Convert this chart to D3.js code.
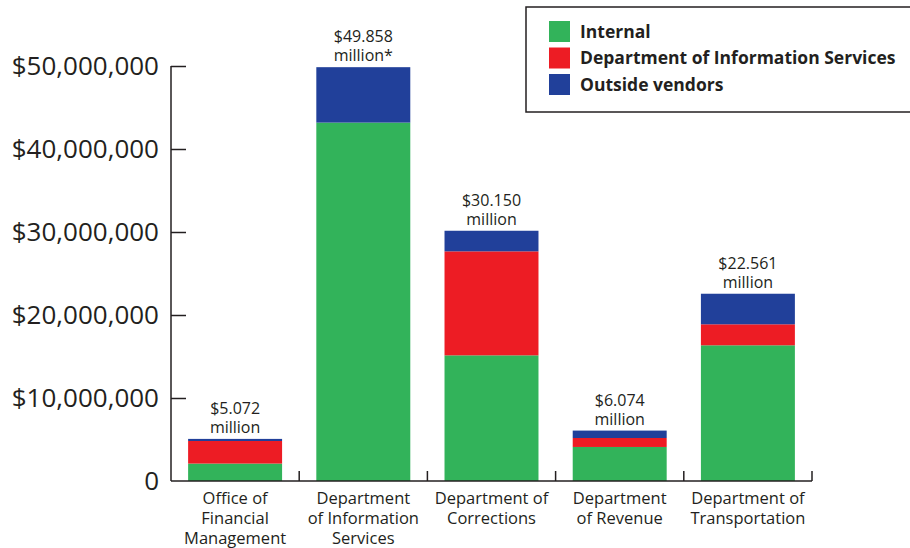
<!DOCTYPE html>
<html>
<head>
<meta charset="utf-8">
<script src="https://cdn.jsdelivr.net/npm/d3@7"></script>
<style>
  body { margin: 0; background: #fff; }
  svg text { font-family: "Open Sans", sans-serif; fill: #231f20; }
</style>
</head>
<body>
<div id="chart"></div>
<script>
// categories (multi-line labels)
var categories = [
  ["Office of", "Financial", "Management"],
  ["Department", "of Information", "Services"],
  ["Department of", "Corrections"],
  ["Department", "of Revenue"],
  ["Department of", "Transportation"]
];

// series values, millions of dollars
var internal = [2.10, 43.18, 15.14, 4.10, 16.35];
var infoServices = [2.72, 0, 12.53, 1.08, 2.53];
var outsideVendors = [0.252, 6.678, 2.48, 0.894, 3.681];

// total labels above each bar
var totalLabels = [
  ["$5.072", "million"],
  ["$49.858", "million*"],
  ["$30.150", "million"],
  ["$6.074", "million"],
  ["$22.561", "million"]
];

var seriesNames = ["Internal", "Department of Information Services", "Outside vendors"];
var seriesColors = ["#32b35a", "#ed1c24", "#21409a"];

var yTicks = [0, 10, 20, 30, 40, 50];
var yTickLabels = ["0", "$10,000,000", "$20,000,000", "$30,000,000", "$40,000,000", "$50,000,000"];

var svgWidth = 910, svgHeight = 548;

var svg = d3.select("#chart")
  .append("svg")
  .attr("width", svgWidth)
  .attr("height", svgHeight);

var margin = { top: 66, left: 171, right: 98, bottom: 67 };
var width = svgWidth - margin.left - margin.right;
var height = svgHeight - margin.top - margin.bottom;

var chartGroup = svg.append("g")
  .attr("transform", `translate(${margin.left}, ${margin.top})`);

// build table for the stack
var rows = categories.map(function(c, i) {
  return { idx: i, s0: internal[i], s1: infoServices[i], s2: outsideVendors[i] };
});
var stack = d3.stack().keys(["s0", "s1", "s2"]);
var stacked = stack(rows);

var xScale = d3.scaleBand()
  .domain(d3.range(categories.length))
  .range([0, width])
  .paddingInner(0.267)
  .paddingOuter(0.1335);

var yScale = d3.scaleLinear()
  .domain([0, 50])
  .range([height, 0]);

// bars
chartGroup.selectAll("g.series")
  .data(stacked)
  .enter()
  .append("g")
  .attr("class", "series")
  .attr("fill", (d, i) => seriesColors[i])
  .selectAll("rect")
  .data(d => d)
  .enter()
  .append("rect")
  .attr("x", d => xScale(d.data.idx))
  .attr("y", d => yScale(d[1]))
  .attr("width", xScale.bandwidth())
  .attr("height", d => yScale(d[0]) - yScale(d[1]));

// y axis
var leftAxis = d3.axisRight(yScale)
  .tickValues(yTicks.filter(d => d > 0))
  .tickSize(15)
  .tickFormat("");

var yAxisG = chartGroup.append("g").call(leftAxis);
yAxisG.select(".domain").remove();
yAxisG.selectAll(".tick line").attr("stroke", "#231f20").attr("stroke-width", 1.5);

chartGroup.append("line")
  .attr("x1", 0).attr("x2", 0)
  .attr("y1", yScale(50)).attr("y2", height)
  .attr("stroke", "#231f20")
  .attr("stroke-width", 1.5);

chartGroup.selectAll("text.ytick")
  .data(yTicks)
  .enter()
  .append("text")
  .attr("class", "ytick")
  .attr("x", -12)
  .attr("y", d => yScale(d) + 9)
  .attr("text-anchor", "end")
  .style("font-size", "26px")
  .text((d, i) => yTickLabels[i]);

// x axis baseline with category separator ticks
chartGroup.append("line")
  .attr("x1", 0).attr("x2", width)
  .attr("y1", height).attr("y2", height)
  .attr("stroke", "#231f20")
  .attr("stroke-width", 1.5);

chartGroup.selectAll("line.sep")
  .data(d3.range(1, categories.length + 1))
  .enter()
  .append("line")
  .attr("class", "sep")
  .attr("x1", d => d * xScale.step())
  .attr("x2", d => d * xScale.step())
  .attr("y1", height)
  .attr("y2", height - 10)
  .attr("stroke", "#231f20")
  .attr("stroke-width", 1.5);

// category labels
var catText = chartGroup.selectAll("text.cat")
  .data(categories)
  .enter()
  .append("text")
  .attr("class", "cat")
  .attr("text-anchor", "middle")
  .style("font-size", "16.5px")
  .attr("transform", (d, i) => `translate(${xScale(i) + xScale.bandwidth() / 2}, ${height + 23})`);

catText.selectAll("tspan")
  .data(d => d)
  .enter()
  .append("tspan")
  .attr("x", 0)
  .attr("dy", (d, i) => i === 0 ? 0 : 20)
  .text(d => d);

// totals above bars
var totText = chartGroup.selectAll("text.total")
  .data(totalLabels)
  .enter()
  .append("text")
  .attr("class", "total")
  .attr("text-anchor", "middle")
  .style("font-size", "16px")
  .attr("transform", (d, i) => {
    var top = internal[i] + infoServices[i] + outsideVendors[i];
    return `translate(${xScale(i) + xScale.bandwidth() / 2}, ${yScale(top) - 25})`;
  });

totText.selectAll("tspan")
  .data(d => d)
  .enter()
  .append("tspan")
  .attr("x", 0)
  .attr("dy", (d, i) => i === 0 ? 0 : 19)
  .text(d => d);

// legend
var legend = svg.append("g").attr("transform", "translate(526, 7)");

legend.append("rect")
  .attr("x", 0).attr("y", 0)
  .attr("width", 400).attr("height", 105)
  .attr("fill", "#fff")
  .attr("stroke", "#231f20")
  .attr("stroke-width", 1.5);

var legendItems = legend.selectAll("g.item")
  .data(seriesNames)
  .enter()
  .append("g")
  .attr("class", "item")
  .attr("transform", (d, i) => `translate(23, ${14 + i * 26.5})`);

legendItems.append("rect")
  .attr("width", 21)
  .attr("height", 21)
  .attr("fill", (d, i) => seriesColors[i]);

legendItems.append("text")
  .attr("x", 31)
  .attr("y", 16.5)
  .style("font-size", "17.5px")
  .style("font-weight", "bold")
  .text(d => d);
</script>
</body>
</html>
